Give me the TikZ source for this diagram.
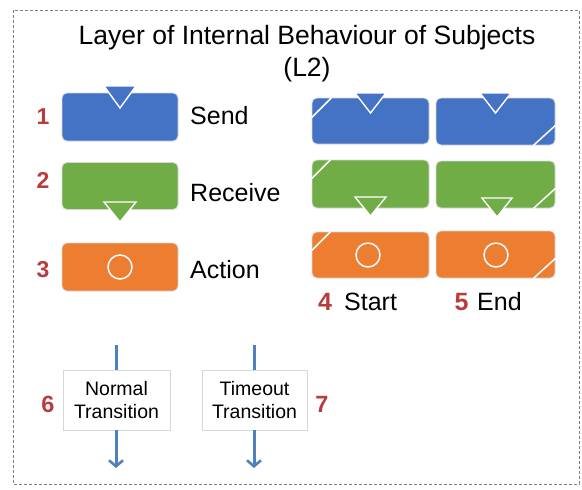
\documentclass[tikz,border=0pt]{standalone}
\usepackage{fontspec}
\setmainfont{Liberation Sans}
\usetikzlibrary{arrows.meta}
\definecolor{sblue}{HTML}{4472C4}
\definecolor{sgreen}{HTML}{70AD47}
\definecolor{sorange}{HTML}{ED7D31}
\definecolor{numred}{RGB}{184,60,62}
\definecolor{arrblue}{RGB}{79,129,189}
\definecolor{edgegray}{RGB}{215,215,215}
\tikzset{
  statebox/.style={draw=edgegray, line width=0.8pt, rounded corners=5pt, inner sep=0pt},
  mark tri/.style={draw=white, line width=1.4pt, line join=miter},
  cutline/.style={draw=white, line width=1.5pt},
  numlbl/.style={font=\fontsize{23}{23}\selectfont\bfseries, text=numred, inner sep=0pt},
  biglbl/.style={font=\fontsize{25}{25}\selectfont, inner sep=0pt, anchor=west},
  titlelbl/.style={font=\fontsize{26.5}{32}\selectfont, inner sep=0pt, anchor=base},
  transbox/.style={draw=edgegray, fill=white, line width=0.8pt, minimum width=107pt, minimum height=60pt, inner sep=0pt, align=center, font=\fontsize{19.5}{23}\selectfont},
  transarrow/.style={draw=arrblue, line width=3pt},
  tipped/.style={-{Straight Barb[length=6pt,width=14pt,line width=2.6pt]}}
}
\begin{document}
\begin{tikzpicture}[x=1pt,y=-1pt]
\useasboundingbox (0,0) rectangle (582,490);
\draw[gray, line width=0.8pt, dash pattern=on 3pt off 2pt] (13,10) rectangle (579,484);

\node[titlelbl] (title1) at (307,44) {Layer of Internal Behaviour of Subjects};
\node[titlelbl] (title2) at (307,76) {(L2)};

% left column
\node[statebox, fill=sblue, minimum width=116pt, minimum height=48pt] (send) at (120,117) {};
\node[statebox, fill=sgreen, minimum width=116pt, minimum height=47pt] (recv) at (120,186) {};
\node[statebox, fill=sorange, minimum width=116pt, minimum height=48pt] (act) at (120,267) {};
\filldraw[mark tri, fill=sblue] (104,86) -- (136,86) -- (120,108) -- cycle;
\filldraw[mark tri, fill=sgreen] (104,202) -- (136,202) -- (120,222) -- cycle;
\draw[white, line width=1.5pt] (act.center) circle (12);

\node[numlbl] (n1) at (43,117) {1};
\node[numlbl] (n2) at (43,180) {2};
\node[numlbl] (n3) at (43,270) {3};
\node[biglbl] (lsend) at (190,116) {Send};
\node[biglbl] (lrecv) at (190,193) {Receive};
\node[biglbl] (lact) at (190,270) {Action};

% start column
\node[statebox, fill=sblue, minimum width=117pt, minimum height=46pt] (ssend) at (370.5,121) {};
\node[statebox, fill=sgreen, minimum width=117pt, minimum height=48pt] (srecv) at (370.5,184) {};
\node[statebox, fill=sorange, minimum width=117pt, minimum height=46pt] (sact) at (370.5,255) {};
\filldraw[mark tri, fill=sblue] (355,93) -- (386,93) -- (370.5,113) -- cycle;
\filldraw[mark tri, fill=sgreen] (355,197) -- (386,197) -- (370.5,216) -- cycle;
\draw[white, line width=1.5pt] (368,255) circle (12);
\draw[cutline] ([yshift=-20pt]ssend.north west) -- ([xshift=20pt]ssend.north west);
\draw[cutline] ([yshift=-19pt]srecv.north west) -- ([xshift=19pt]srecv.north west);
\draw[cutline] ([yshift=-19pt]sact.north west) -- ([xshift=19pt]sact.north west);

% end column
\node[statebox, fill=sblue, minimum width=119pt, minimum height=47pt] (esend) at (495.5,121.5) {};
\node[statebox, fill=sgreen, minimum width=119pt, minimum height=47pt] (erecv) at (495.5,184.5) {};
\node[statebox, fill=sorange, minimum width=119pt, minimum height=47pt] (eact) at (495.5,254.5) {};
\filldraw[mark tri, fill=sblue] (480,93) -- (511,93) -- (495.5,113) -- cycle;
\filldraw[mark tri, fill=sgreen] (482,198) -- (512,198) -- (497,217) -- cycle;
\draw[white, line width=1.5pt] (496,255) circle (12);
\draw[cutline] ([xshift=-22pt]esend.south east) -- ([yshift=20pt]esend.south east);
\draw[cutline] ([xshift=-22pt]erecv.south east) -- ([yshift=20pt]erecv.south east);
\draw[cutline] ([xshift=-22pt]eact.south east) -- ([yshift=20pt]eact.south east);

\node[numlbl, font=\fontsize{25}{25}\selectfont\bfseries] (n4) at (325,302) {4};
\node[biglbl] (lstart) at (344,302) {Start};
\node[numlbl, font=\fontsize{25}{25}\selectfont\bfseries] (n5) at (461.5,302) {5};
\node[biglbl] (lend) at (477,302) {End};

% transitions
\node[transbox] (normal) at (116.5,400) {Normal\\Transition};
\node[transbox, minimum width=105pt] (timeout) at (254.5,400) {Timeout\\Transition};
\coordinate (ntop) at (116,345);
\coordinate (nbot) at (116,468);
\coordinate (ttop) at (254,345);
\coordinate (tbot) at (254,468);
\draw[transarrow] (ntop) -- (ntop |- normal.north);
\draw[transarrow, tipped] (ntop |- normal.south) -- (nbot);
\draw[transarrow] (ttop) -- (ttop |- timeout.north);
\draw[transarrow, tipped] (ttop |- timeout.south) -- (tbot);
\node[numlbl, font=\fontsize{23.5}{23.5}\selectfont\bfseries] (n6) at (48,404) {6};
\node[numlbl, font=\fontsize{23.5}{23.5}\selectfont\bfseries] (n7) at (322,404) {7};
\end{tikzpicture}
\end{document}
